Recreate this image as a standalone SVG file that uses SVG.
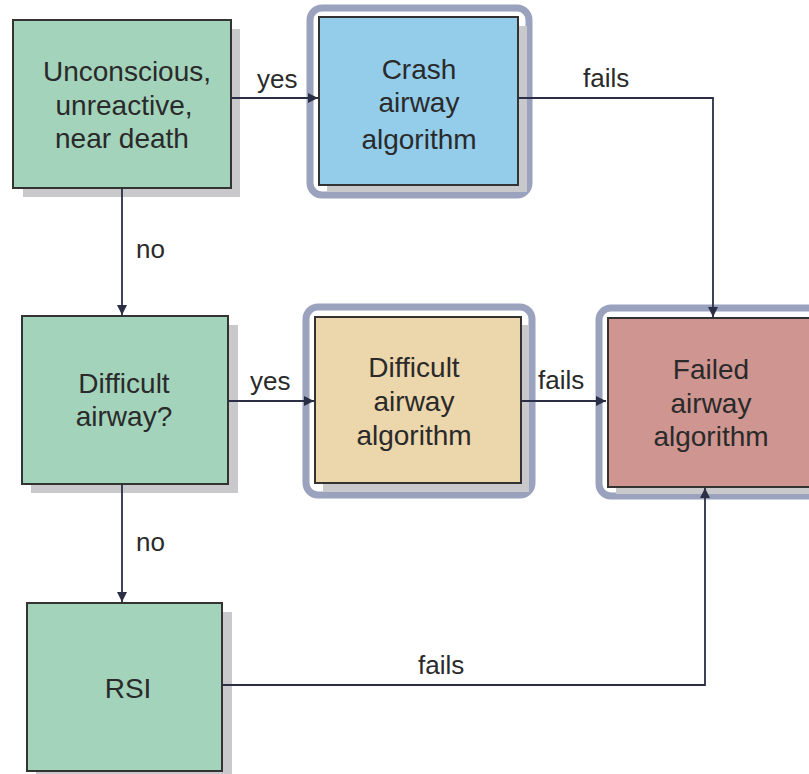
<svg xmlns="http://www.w3.org/2000/svg" width="809" height="774" viewBox="0 0 809 774">
<defs>
<marker id="ah" viewBox="0 0 10 10" refX="10" refY="5" markerWidth="10" markerHeight="10" markerUnits="userSpaceOnUse" orient="auto">
<path d="M0,0 L10,5 L0,10 Z" fill="#2b2f45"/>
</marker>
<style>
.t{font-family:"Liberation Sans",Arial,sans-serif;font-size:28px;fill:#2a2a2a;text-anchor:middle}
.l{font-family:"Liberation Sans",Arial,sans-serif;font-size:26px;fill:#2a2a2a}
.box{stroke:#333;stroke-width:2}
.sh{fill:#c9c9cc}
.ring{fill:#ffffff;stroke:#9aa2bd;stroke-width:7}
.edge{fill:none;stroke:#2b2f45;stroke-width:1.8}
</style>
</defs>
<rect width="809" height="774" fill="#ffffff"/>
<g id="node-unconscious">
<rect class="sh" x="23" y="29" width="217" height="168"/>
<rect class="box" x="13" y="20" width="218" height="168" fill="#a3d3bb"/>
<text class="t" x="127" y="81">Unconscious,</text>
<text class="t" x="124" y="115">unreactive,</text>
<text class="t" x="122" y="148">near death</text>
</g>
<g id="node-crash">
<rect class="ring" x="310" y="8" width="219" height="187" rx="12"/>
<rect class="sh" x="327" y="26" width="200" height="166"/>
<rect class="box" x="319" y="17" width="199" height="168" fill="#93cdea"/>
<text class="t" x="419" y="79">Crash</text>
<text class="t" x="419" y="112">airway</text>
<text class="t" x="419" y="149">algorithm</text>
</g>
<g id="node-difficult-q">
<rect class="sh" x="31" y="325" width="207" height="168"/>
<rect class="box" x="22" y="316" width="206" height="168" fill="#a3d3bb"/>
<text class="t" x="124" y="393">Difficult</text>
<text class="t" x="124" y="426">airway?</text>
</g>
<g id="node-difficult-alg">
<rect class="ring" x="306" y="307" width="226" height="188" rx="12"/>
<rect class="sh" x="323" y="325" width="206" height="167"/>
<rect class="box" x="315" y="317" width="206" height="166" fill="#ecd6ab"/>
<text class="t" x="414" y="377">Difficult</text>
<text class="t" x="414" y="411">airway</text>
<text class="t" x="414" y="445">algorithm</text>
</g>
<g id="node-failed">
<rect class="ring" x="599" y="308" width="230" height="188" rx="12"/>
<rect class="sh" x="616" y="326" width="200" height="168"/>
<rect class="box" x="608" y="318" width="220" height="169" fill="#cf9590"/>
<text class="t" x="711" y="379">Failed</text>
<text class="t" x="711" y="413">airway</text>
<text class="t" x="711" y="446">algorithm</text>
</g>
<g id="node-rsi">
<rect class="sh" x="36" y="612" width="196" height="162"/>
<rect class="box" x="27" y="603" width="195" height="168" fill="#a3d3bb"/>
<text class="t" x="128" y="698">RSI</text>
</g>
<g id="connectors">
<path class="edge" d="M231,98 H318" marker-end="url(#ah)"/>
<path class="edge" d="M518,98 H713 V317" marker-end="url(#ah)"/>
<path class="edge" d="M122,188 V315" marker-end="url(#ah)"/>
<path class="edge" d="M228,401 H314" marker-end="url(#ah)"/>
<path class="edge" d="M521,401 H606" marker-end="url(#ah)"/>
<path class="edge" d="M122,484 V602" marker-end="url(#ah)"/>
<path class="edge" d="M222,685 H705 V488" marker-end="url(#ah)"/>
<text class="l" x="257" y="88">yes</text>
<text class="l" x="583" y="87">fails</text>
<text class="l" x="136" y="258">no</text>
<text class="l" x="250" y="390">yes</text>
<text class="l" x="538" y="389">fails</text>
<text class="l" x="136" y="551">no</text>
<text class="l" x="418" y="674">fails</text>
</g>
</svg>
